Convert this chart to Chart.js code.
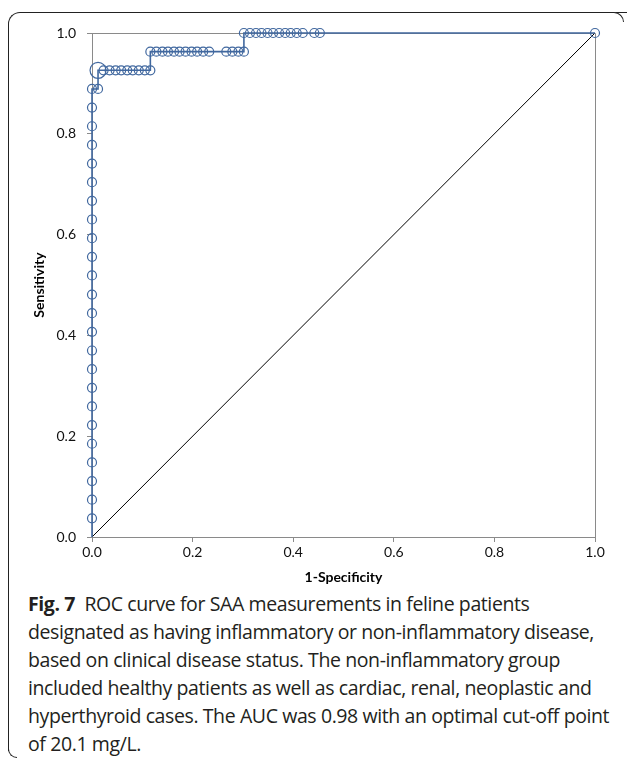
<!DOCTYPE html>
<html>
<head>
<meta charset="utf-8">
<script src="https://cdn.jsdelivr.net/npm/chart.js@4"></script>
<style>
  html, body { margin: 0; padding: 0; background: #fff; }
  body { width: 627px; height: 759px; position: relative; overflow: hidden; }
  #wrap { position: absolute; left: 0; top: 0; width: 627px; height: 589px; }
  .frame-main { position: absolute; left: 8px; top: 12px; width: 620px; height: 738px;
    border-top: 1.5px solid #222; border-left: 1.5px solid #222; border-top-left-radius: 12px; }
  .frame-tr { position: absolute; left: 612px; top: 12px; width: 11px; height: 9px;
    border-top: 1.5px solid #222; border-right: 1.5px solid #222; border-top-right-radius: 11px; background: #fff; }
  .frame-bl { position: absolute; left: 8px; top: 744px; width: 8px; height: 13px;
    border-bottom: 1.5px solid #222; border-left: 1.5px solid #222; border-bottom-left-radius: 10px; background: transparent; }
  #caption { position: absolute; left: 28px; top: 590px; width: 595px;
    font-family: "Open Sans", sans-serif; font-size: 19.5px; line-height: 28px; color: #231f20;
    letter-spacing: -0.4px; white-space: nowrap; }
  #caption b { font-weight: 700; }
</style>
</head>
<body>
<div class="frame-main"></div>
<div class="frame-tr"></div>
<div class="frame-bl"></div>
<div id="wrap"><canvas id="roc"></canvas></div>
<div id="caption"><b>Fig. 7</b>&nbsp; ROC curve for SAA measurements in feline patients<br>designated as having inflammatory or non-inflammatory disease,<br>based on clinical disease status. The non-inflammatory group<br>included healthy patients as well as cardiac, renal, neoplastic and<br>hyperthyroid cases. The AUC was 0.98 with an optimal cut-off point<br>of 20.1 mg/L.</div>
<script>
// ROC 곡선 좌표
const rocX = [
  0, 0, 0, 0, 0, 0, 0, 0, 0, 0, 0, 0, 0, 0, 0, 0, 0, 0, 0, 0, 0, 0, 0, 0, 0,
  0.012, 0.012,
  0.023, 0.035, 0.047, 0.058, 0.070, 0.081, 0.093, 0.105, 0.116,
  0.116, 0.128, 0.140, 0.151, 0.163, 0.174, 0.186, 0.198, 0.209, 0.221, 0.233,
  0.267, 0.279, 0.291, 0.302,
  0.302, 0.314, 0.326, 0.337, 0.349, 0.360, 0.372, 0.384, 0.395, 0.407, 0.419,
  0.442, 0.453,
  1
];
const rocY = [
  0, 0.037, 0.074, 0.111, 0.148, 0.185, 0.222, 0.259, 0.296, 0.333, 0.370, 0.407, 0.444,
  0.481, 0.519, 0.556, 0.593, 0.630, 0.667, 0.704, 0.741, 0.778, 0.815, 0.852, 0.889,
  0.889, 0.926,
  0.926, 0.926, 0.926, 0.926, 0.926, 0.926, 0.926, 0.926, 0.926,
  0.963, 0.963, 0.963, 0.963, 0.963, 0.963, 0.963, 0.963, 0.963, 0.963, 0.963,
  0.963, 0.963, 0.963, 0.963,
  1, 1, 1, 1, 1, 1, 1, 1, 1, 1, 1,
  1, 1,
  1
];
const optimalIndex = 26; // 큰 원 (cut-off 20.1 mg/L)

const diagX = [0, 1];
const diagY = [0, 1];

const axisTicks = [0, 0.2, 0.4, 0.6, 0.8, 1.0];

const blue = "#41689f";
const axisGrey = "#8a8a8a";
const tickFont = { family: "Lato, 'Open Sans', sans-serif", size: 14 };
const titleFont = { family: "Lato, 'Open Sans', sans-serif", size: 14, weight: "bold" };

// 차트 영역 위/오른쪽 테두리
const frameLines = {
  id: "frameLines",
  beforeDatasetsDraw(chart) {
    const { ctx, chartArea: a } = chart;
    ctx.save();
    ctx.strokeStyle = axisGrey;
    ctx.lineWidth = 1;
    ctx.beginPath();
    ctx.moveTo(a.left, a.top + 0.5);
    ctx.lineTo(a.right + 0.5, a.top + 0.5);
    ctx.lineTo(a.right + 0.5, a.bottom);
    ctx.stroke();
    ctx.restore();
  },
};

new Chart(document.getElementById("roc"), {
  type: "scatter",
  data: {
    datasets: [
      {
        label: "Reference",
        data: diagX.map((x, i) => ({ x, y: diagY[i] })),
        showLine: true,
        borderColor: "#000",
        borderWidth: 1,
        pointRadius: 0,
        order: 2,
      },
      {
        label: "SAA",
        data: rocX.map((x, i) => ({ x, y: rocY[i] })),
        showLine: true,
        borderColor: blue,
        borderWidth: 1.6,
        backgroundColor: "rgba(0,0,0,0)",
        pointBorderColor: blue,
        pointBorderWidth: 1.2,
        pointRadius: rocX.map((x, i) => (i === 0 ? 0 : i === optimalIndex ? 8 : 4.5)),
        clip: false,
        order: 1,
      },
    ],
  },
  options: {
    responsive: true,
    maintainAspectRatio: false,
    animation: false,
    layout: { padding: { left: 27, top: 33, right: 32, bottom: 0 } },
    plugins: { legend: { display: false }, tooltip: { enabled: false } },
    scales: {
      x: {
        type: "linear",
        min: 0,
        max: 1,
        afterBuildTicks: (s) => { s.ticks = axisTicks.map((v) => ({ value: v })); },
        afterFit: (s) => { s.height = 52; },
        ticks: { color: "#111", font: tickFont, padding: 2, callback: (v) => Number(v).toFixed(1) },
        grid: { display: true, drawOnChartArea: false, drawTicks: true, tickLength: 5, color: axisGrey },
        border: { color: axisGrey, width: 1 },
        title: { display: true, text: "1-Specificity", color: "#000", font: titleFont, padding: { top: 4, bottom: 3 } },
      },
      y: {
        type: "linear",
        min: 0,
        max: 1,
        afterBuildTicks: (s) => { s.ticks = axisTicks.map((v) => ({ value: v })); },
        afterFit: (s) => { s.width = 65; },
        ticks: { color: "#111", font: tickFont, padding: 11, callback: (v) => Number(v).toFixed(1) },
        grid: { display: true, drawOnChartArea: false, drawTicks: true, tickLength: 5, color: axisGrey },
        border: { color: axisGrey, width: 1 },
        title: { display: true, text: "Sensitivity", color: "#000", font: titleFont, padding: { top: 4, bottom: 4 } },
      },
    },
  },
  plugins: [frameLines],
});
</script>
</body>
</html>
